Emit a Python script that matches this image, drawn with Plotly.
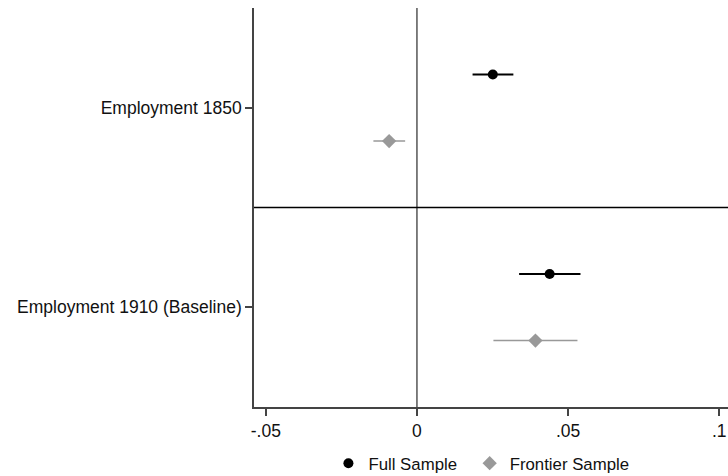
import plotly.graph_objects as go

categories = ["Employment 1850", "Employment 1910 (Baseline)"]
cat_pos = [2, 1]

full_est = [0.0251, 0.0439]
full_lo = [0.0184, 0.0338]
full_hi = [0.0319, 0.0541]

front_est = [-0.0092, 0.0392]
front_lo = [-0.0144, 0.0253]
front_hi = [-0.0039, 0.0531]

x_tickvals = [-0.05, 0, 0.05, 0.1]
x_ticktext = ["-.05", "0", ".05", ".1"]

offset = 0.167
FONT = "Liberation Sans, Arial, Helvetica, sans-serif"

fig = go.Figure()
fig.add_trace(go.Scatter(
    x=full_est, y=[p + offset for p in cat_pos], mode="markers",
    name="Full Sample", legend="legend",
    marker=dict(symbol="circle", size=10, color="black"),
    error_x=dict(type="data", symmetric=False,
                 array=[h - e for h, e in zip(full_hi, full_est)],
                 arrayminus=[e - l for e, l in zip(full_est, full_lo)],
                 color="black", thickness=2, width=0),
))
fig.add_trace(go.Scatter(
    x=front_est, y=[p - offset for p in cat_pos], mode="markers",
    name="Frontier Sample", legend="legend2",
    marker=dict(symbol="diamond", size=11, color="#999999"),
    error_x=dict(type="data", symmetric=False,
                 array=[h - e for h, e in zip(front_hi, front_est)],
                 arrayminus=[e - l for e, l in zip(front_est, front_lo)],
                 color="#999999", thickness=1.6, width=0),
))

fig.add_shape(type="line", xref="x", yref="paper", x0=0, x1=0, y0=0, y1=1,
              line=dict(color="#555555", width=1.5), layer="below")
fig.add_shape(type="line", xref="paper", yref="y", x0=0, x1=1, y0=1.5, y1=1.5,
              line=dict(color="black", width=1.5), layer="below")

leg_common = dict(orientation="h", xanchor="left", y=-0.141, yanchor="middle",
                  font=dict(size=16.8), itemwidth=30, bgcolor="rgba(0,0,0,0)")

fig.update_layout(
    width=728, height=476,
    margin=dict(l=254, r=0, t=8, b=69, autoexpand=False),
    plot_bgcolor="white", paper_bgcolor="white",
    font=dict(family=FONT, size=17.5, color="#111111"),
    showlegend=True,
    legend=dict(x=0.157, **leg_common),
    legend2=dict(x=0.455, **leg_common),
    xaxis=dict(range=[-0.0539, 0.1029], tickvals=x_tickvals, ticktext=x_ticktext,
               showgrid=False, zeroline=False, showline=True, linecolor="#444444",
               linewidth=1.5, ticks="outside", ticklen=7, tickcolor="#444444",
               tickwidth=1.5),
    yaxis=dict(range=[0.5, 2.5], tickvals=cat_pos, ticktext=categories,
               showgrid=False, zeroline=False, showline=True, linecolor="#444444",
               linewidth=1.5, ticks="outside", ticklen=7, tickcolor="#444444",
               tickwidth=1.5),
)

fig.write_html("out.html")
